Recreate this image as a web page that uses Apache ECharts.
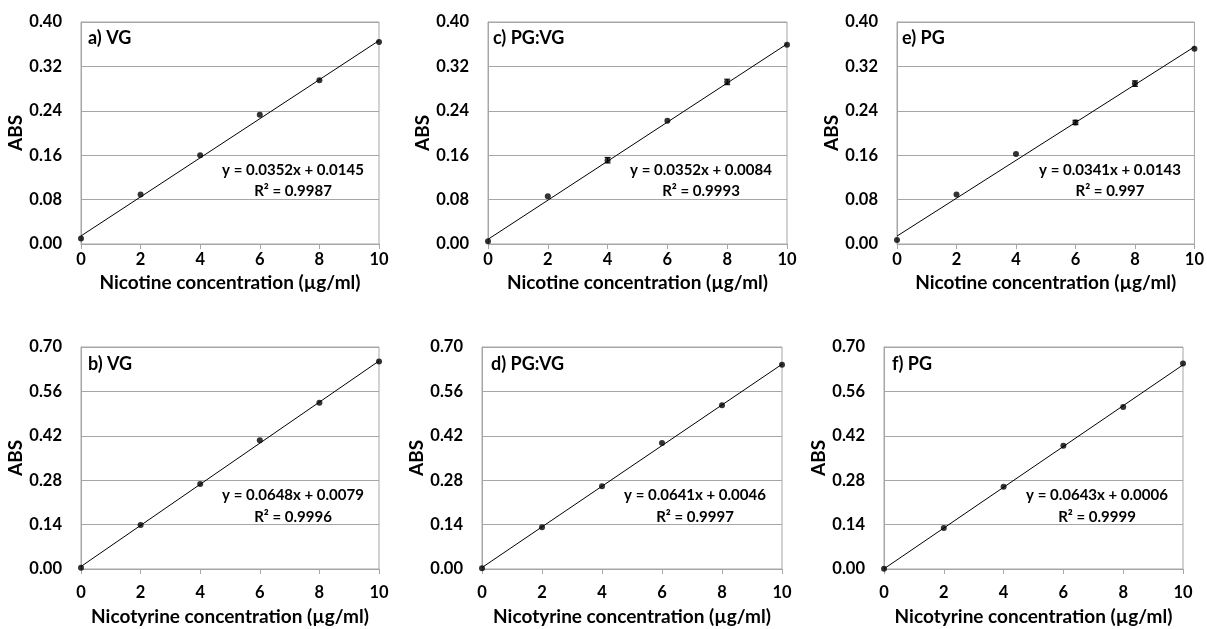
<!DOCTYPE html>
<html><head><meta charset="utf-8">
<script src="https://cdn.jsdelivr.net/npm/echarts@6/dist/echarts.min.js"></script>
<style>html,body{margin:0;padding:0;background:#fff}#c{width:1207px;height:629px}</style>
</head><body><div id="c"></div>
<script>
const xValues = [0, 2, 4, 6, 8, 10];
const panelLabels = ['a) VG', 'c) PG:VG', 'e) PG', 'b) VG', 'd) PG:VG', 'f) PG'];
const xAxisNames = ['Nicotine concentration (µg/ml)', 'Nicotine concentration (µg/ml)', 'Nicotine concentration (µg/ml)',
  'Nicotyrine concentration (µg/ml)', 'Nicotyrine concentration (µg/ml)', 'Nicotyrine concentration (µg/ml)'];
const absA = [0.010, 0.089, 0.160, 0.233, 0.295, 0.364];
const absC = [0.005, 0.086, 0.151, 0.222, 0.292, 0.359];
const absE = [0.007, 0.089, 0.162, 0.219, 0.289, 0.352];
const absB = [0.004, 0.139, 0.268, 0.406, 0.524, 0.654];
const absD = [0.002, 0.132, 0.261, 0.397, 0.516, 0.644];
const absF = [0.001, 0.129, 0.259, 0.389, 0.511, 0.648];
const errA = [0, 0, 0, 0, 0, 0];
const errC = [0, 0, 0.005, 0, 0.005, 0];
const errE = [0, 0, 0, 0.004, 0.005, 0];
const errB = [0, 0, 0, 0, 0, 0];
const errD = [0, 0, 0, 0, 0, 0];
const errF = [0, 0, 0, 0, 0, 0];
const slopes = [0.0352, 0.0352, 0.0341, 0.0648, 0.0641, 0.0643];
const intercepts = [0.0145, 0.0084, 0.0143, 0.0079, 0.0046, 0.0006];
const eqTexts = ['y = 0.0352x + 0.0145', 'y = 0.0352x + 0.0084', 'y = 0.0341x + 0.0143',
  'y = 0.0648x + 0.0079', 'y = 0.0641x + 0.0046', 'y = 0.0643x + 0.0006'];
const r2Texts = ['R² = 0.9987', 'R² = 0.9993', 'R² = 0.997', 'R² = 0.9996', 'R² = 0.9997', 'R² = 0.9999'];
const yMax = [0.40, 0.40, 0.40, 0.70, 0.70, 0.70];
const yStep = [0.08, 0.08, 0.08, 0.14, 0.14, 0.14];

const absAll = [absA, absC, absE, absB, absD, absF];
const errAll = [errA, errC, errE, errB, errD, errF];

const FONT = 'Lato';
const grids = [
  {left: 81, top: 22, width: 298, height: 222},
  {left: 488, top: 22, width: 299, height: 222},
  {left: 897, top: 22, width: 299, height: 222},
  {left: 81, top: 347, width: 298, height: 222},
  {left: 482, top: 347, width: 300, height: 222},
  {left: 884, top: 347, width: 299, height: 222}
];
const labelPos = [[88, 38], [493, 38], [902, 38], [88, 364], [491, 364], [892, 364]];
const eqPos = [[293, 170, 191], [701, 170, 191], [1110, 170, 191], [293, 495, 517], [695, 495, 517], [1097, 495, 517]];

const option = {
  backgroundColor: '#fff',
  animation: false,
  grid: grids.map(g => Object.assign({show: true, borderColor: '#a6a6a6', borderWidth: 1}, g)),
  xAxis: grids.map((g, i) => ({
    gridIndex: i, type: 'value', min: 0, max: 10, interval: 2,
    name: xAxisNames[i], nameLocation: 'middle', nameGap: i < 3 ? 29 : 38,
    nameTextStyle: {fontFamily: FONT, fontWeight: 'bold', fontSize: 19, color: '#000'},
    axisLine: {show: true, onZero: false, lineStyle: {color: '#a6a6a6', width: 1}},
    axisTick: {show: true, inside: false, length: 5, lineStyle: {color: '#a6a6a6'}},
    axisLabel: {fontFamily: FONT, fontWeight: 'bold', fontSize: 16.5, color: '#000', margin: i < 3 ? 7 : 15},
    splitLine: {show: false}
  })),
  yAxis: grids.map((g, i) => ({
    gridIndex: i, type: 'value', min: 0, max: yMax[i], interval: yStep[i],
    name: 'ABS', nameLocation: 'middle', nameGap: 51,
    nameTextStyle: {fontFamily: FONT, fontWeight: 'bold', fontSize: 19, color: '#000'},
    axisLine: {show: true, lineStyle: {color: '#a6a6a6', width: 1}},
    axisTick: {show: false},
    axisLabel: {fontFamily: FONT, fontWeight: 'bold', fontSize: 16.5, color: '#000', margin: 19,
      formatter: v => v.toFixed(2)},
    splitLine: {show: true, lineStyle: {color: '#a6a6a6', width: 1}}
  })),
  graphic: [],
  series: []
};

for (let i = 0; i < 6; i++) {
  option.graphic.push({type: 'text', x: labelPos[i][0], y: labelPos[i][1],
    style: {text: panelLabels[i], font: 'bold 18px ' + FONT, fill: '#000', align: 'left', verticalAlign: 'middle'}});
  option.graphic.push({type: 'text', x: eqPos[i][0], y: eqPos[i][1],
    style: {text: eqTexts[i], font: 'bold 15px ' + FONT, fill: '#000', align: 'center', verticalAlign: 'middle'}});
  option.graphic.push({type: 'text', x: eqPos[i][0], y: eqPos[i][2],
    style: {text: r2Texts[i], font: 'bold 15px ' + FONT, fill: '#000', align: 'center', verticalAlign: 'middle'}});

  option.series.push({
    type: 'line', xAxisIndex: i, yAxisIndex: i, symbol: 'none', silent: true,
    lineStyle: {color: '#000', width: 1},
    data: [[0, intercepts[i]], [10, slopes[i] * 10 + intercepts[i]]]
  });
  const errs = errAll[i];
  const vals = absAll[i];
  option.series.push({
    type: 'custom', xAxisIndex: i, yAxisIndex: i, silent: true,
    data: xValues.map((x, k) => [x, vals[k] - errs[k], vals[k] + errs[k]]).filter((d, k) => errs[k] > 0),
    renderItem: (params, api) => {
      const lo = api.coord([api.value(0), api.value(1)]);
      const hi = api.coord([api.value(0), api.value(2)]);
      const w = 3;
      return {type: 'group', children: [
        {type: 'line', shape: {x1: lo[0], y1: lo[1], x2: hi[0], y2: hi[1]}, style: {stroke: '#000', lineWidth: 1}},
        {type: 'line', shape: {x1: lo[0] - w, y1: lo[1], x2: lo[0] + w, y2: lo[1]}, style: {stroke: '#000', lineWidth: 1}},
        {type: 'line', shape: {x1: hi[0] - w, y1: hi[1], x2: hi[0] + w, y2: hi[1]}, style: {stroke: '#000', lineWidth: 1}}
      ]};
    }
  });
  option.series.push({
    type: 'scatter', xAxisIndex: i, yAxisIndex: i, symbol: 'circle', symbolSize: 6, silent: true,
    itemStyle: {color: '#000'},
    data: xValues.map((x, k) => [x, vals[k]])
  });
}

const chart = echarts.init(document.getElementById('c'), null, {renderer: 'canvas'});
chart.setOption(option);
</script></body></html>
